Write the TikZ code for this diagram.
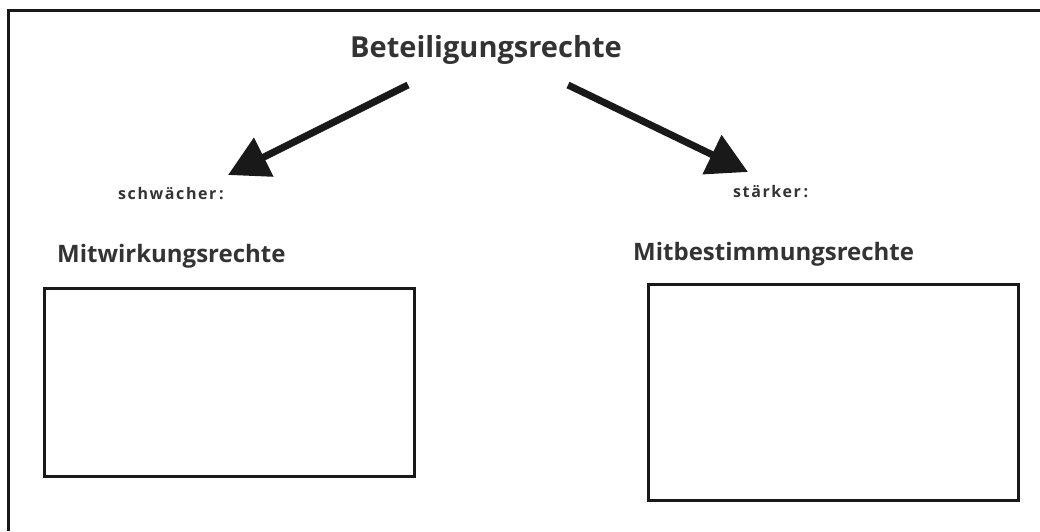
\documentclass[tikz,border=0pt]{standalone}
\usepackage{fontspec}
\setmainfont{Open Sans}
\usetikzlibrary{arrows.meta}
\begin{document}
\begin{tikzpicture}[x=1pt,y=-1pt,
  frameline/.style={line width=3pt,black!90},
  boxline/.style={draw,line width=3pt,black!90},
  bigarrow/.style={line width=7pt,black!90,-{Triangle[length=40pt,width=42pt]}},
  title/.style={font=\fontsize{29}{32}\selectfont\bfseries,text=black!80,inner sep=0pt},
  heading/.style={font=\fontsize{24}{27}\selectfont\bfseries,text=black!80,inner sep=0pt,anchor=west},
  small/.style={font=\fontsize{16}{18}\selectfont\bfseries\addfontfeature{LetterSpace=10},text=black!80,inner sep=0pt,anchor=west}]
\useasboundingbox (0,0) rectangle (1040,531);
\coordinate (fbl) at (8,531);
\coordinate (ftl) at (8,10);
\coordinate (ftr) at (1040,10);
\draw[frameline] (fbl) -- (ftl) -- (ftr);
\node[title] (top) at (486,50) {Beteiligungsrechte};
\coordinate (la) at (408,85);
\coordinate (lt) at (228,175);
\coordinate (ra) at (568,85);
\coordinate (rt) at (748,172);
\draw[bigarrow] (la) -- (lt);
\draw[bigarrow] (ra) -- (rt);
\node[small] (sw) at (118,194) {schwächer\,:};
\node[small] (st) at (733,192) {stärker\,:};
\node[heading] (mw) at (57,256) {Mitwirkungsrechte};
\node[heading] (mb) at (633,254) {Mitbestimmungsrechte};
\node[boxline,minimum width=370pt,minimum height=188pt,inner sep=0pt] (lbox) at (229,382) {};
\node[boxline,minimum width=370pt,minimum height=216pt,inner sep=0pt] (rbox) at (833,392) {};
\end{tikzpicture}
\end{document}
